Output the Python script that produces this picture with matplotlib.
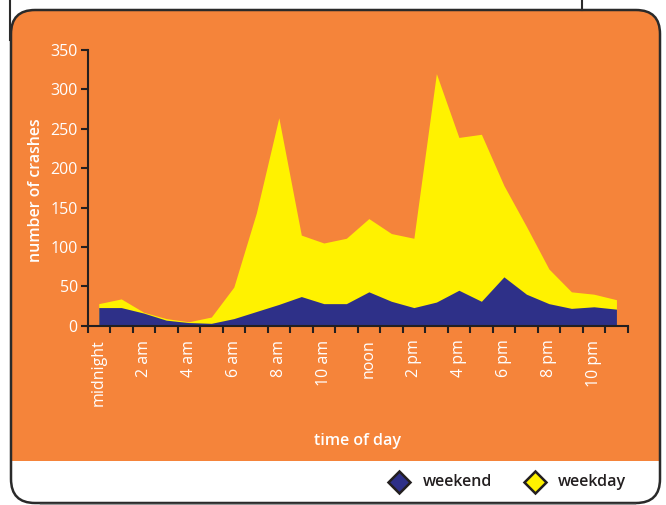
import matplotlib
matplotlib.use("Agg")
import matplotlib.pyplot as plt
import numpy as np
from matplotlib.patches import FancyBboxPatch
from matplotlib.lines import Line2D
from matplotlib.transforms import IdentityTransform, Bbox

# crashes per hour of day (hour 0 = midnight)
hours = list(range(24))
weekday = [28, 34, 17, 9, 5, 11, 49, 143, 264, 115, 105, 111,
           136, 117, 111, 320, 239, 243, 178, 126, 72, 43, 40, 33]
weekend = [23, 23, 16, 7, 4, 3, 9, 18, 27, 37, 28, 28,
           43, 31, 23, 30, 45, 31, 62, 40, 28, 22, 24, 21]
label_hours = [0, 2, 4, 6, 8, 10, 12, 14, 16, 18, 20, 22]
hour_labels = ["midnight", "2 am", "4 am", "6 am", "8 am", "10 am",
               "noon", "2 pm", "4 pm", "6 pm", "8 pm", "10 pm"]
y_ticks = [0, 50, 100, 150, 200, 250, 300, 350]

ORANGE = "#F5843A"
YELLOW = "#FFF200"
BLUE = "#2E3088"
DARK = "#231F20"
FONT = "Open Sans"

W, H = 666, 505
fig = plt.figure(figsize=(W / 100, H / 100), dpi=100)
fig.patch.set_facecolor("white")

px = IdentityTransform()

# panel: rounded box, orange above, white strip for the legend below
left, right, top, bottom, split = 11, 660, H - 10, 2, H - 461
box_kw = dict(boxstyle="round,pad=0,rounding_size=24", transform=px)
orange_box = FancyBboxPatch((left, bottom), right - left, top - bottom,
                            facecolor=ORANGE, edgecolor="none", zorder=0, **box_kw)
orange_box.set_clip_box(Bbox([[0, split], [W, H]]))
fig.add_artist(orange_box)
white_box = FancyBboxPatch((left, bottom), right - left, top - bottom,
                           facecolor="white", edgecolor="none", zorder=0, **box_kw)
white_box.set_clip_box(Bbox([[0, 0], [W, split]]))
fig.add_artist(white_box)
fig.add_artist(FancyBboxPatch((left, bottom), right - left, top - bottom,
                              facecolor="none", edgecolor="#2a2a2a", lw=1.8,
                              zorder=1, **box_kw))
fig.add_artist(Line2D([10, 10], [H, H - 40], color="#2a2a2a", lw=1.5, transform=px))
fig.add_artist(Line2D([582, 582], [H, H - 10], color="#2a2a2a", lw=1.5, transform=px))
fig.add_artist(Line2D([40, 635], [1, 1], color="#999999", lw=1.0, transform=px))

# chart axes
ax = fig.add_axes([87.5 / W, 179.3 / H, (627.7 - 87.5) / W, (325.7 - 50) / H])
ax.set_facecolor("none")
x = np.array(hours) + 0.5
ax.fill_between(x, 0, weekday, color=YELLOW, lw=0, zorder=2)
ax.fill_between(x, 0, weekend, color=BLUE, lw=0, zorder=3)
ax.set_xlim(0, 24)
ax.set_ylim(0, 350)

for s in ("top", "right"):
    ax.spines[s].set_visible(False)
for s in ("left", "bottom"):
    ax.spines[s].set_color(DARK)
    ax.spines[s].set_linewidth(1.5)
    ax.spines[s].set_zorder(4)

ax.set_yticks(y_ticks)
ax.set_yticklabels([str(v) for v in y_ticks], fontsize=11.5, color="white",
                   family=FONT)
ax.tick_params(axis="y", length=5, width=1.5, color=DARK, pad=2)

ax.set_xticks(np.arange(0, 25), minor=True)
ax.set_xticks(np.array(label_hours) + 0.5)
ax.set_xticklabels(hour_labels, rotation=90, fontsize=11.5, color="white",
                   family=FONT, va="top", ha="center")
ax.tick_params(axis="x", which="major", length=0, pad=10)
ax.tick_params(axis="x", which="minor", length=5, width=1.5, color=DARK)

fig.text(36 / W, 1 - 190 / H, "number of crashes", rotation=90, color="white",
         fontsize=11.5, fontweight="semibold", family=FONT, ha="center", va="center")
fig.text(358 / W, 1 - 441 / H, "time of day", color="white",
         fontsize=11.5, fontweight="semibold", family=FONT, ha="center", va="center")

# legend
for cx, tx, col, name in [(399, 423, BLUE, "weekend"), (535, 558, YELLOW, "weekday")]:
    fig.add_artist(Line2D([cx], [H - 482], marker="D", markersize=11,
                          markerfacecolor=col, markeredgecolor=DARK,
                          markeredgewidth=1.8, transform=px))
    fig.text(tx / W, 1 - 482 / H, name, color=DARK, fontsize=11.5,
             fontweight="semibold", family=FONT, ha="left", va="center")

fig.savefig("out.png", dpi=100, facecolor="white")
